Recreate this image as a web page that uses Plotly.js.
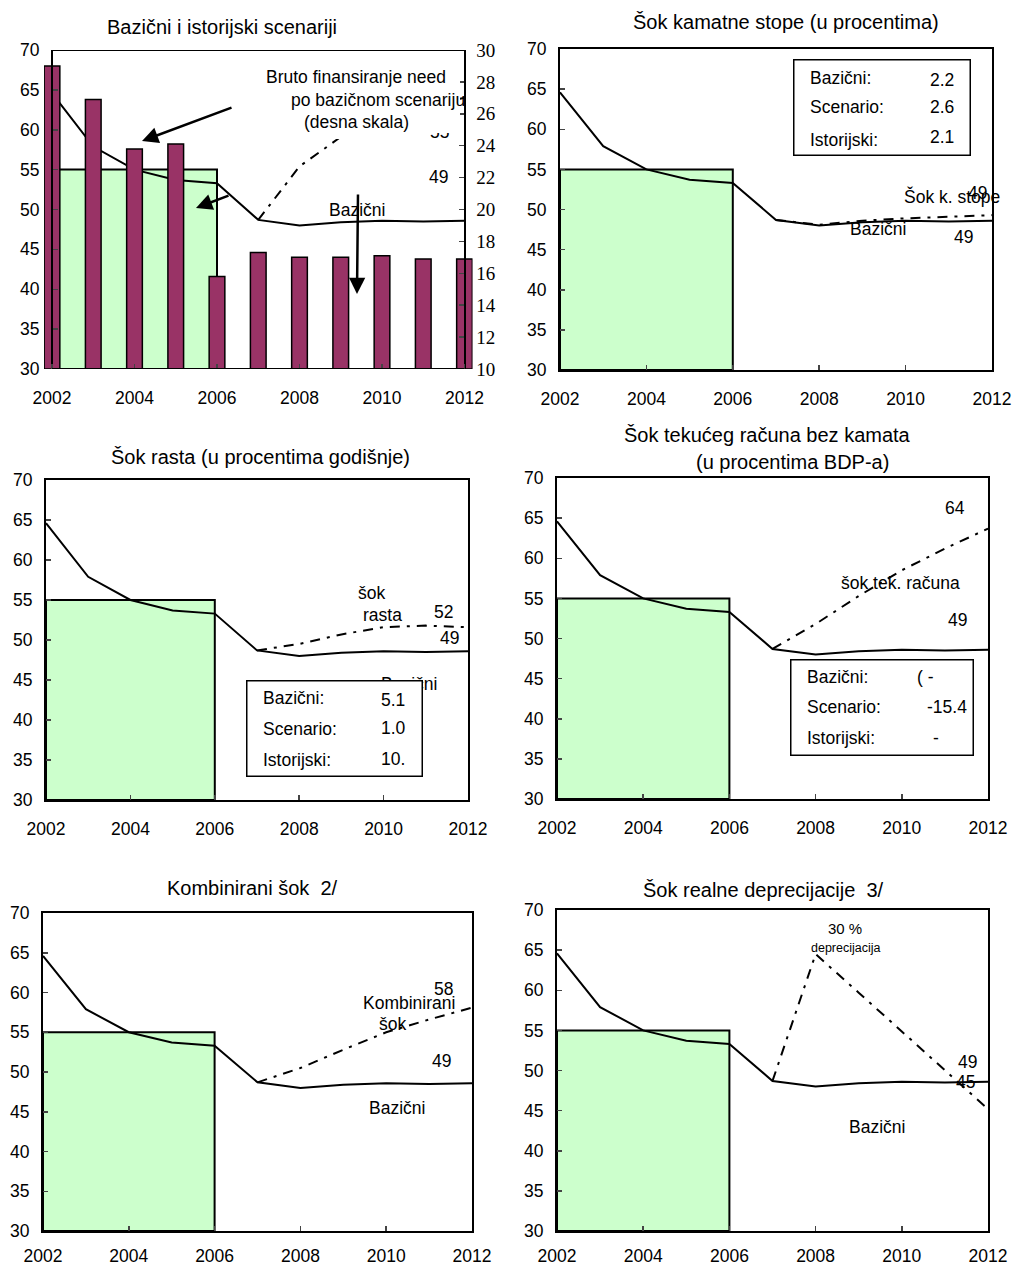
<!DOCTYPE html>
<html><head><meta charset="utf-8">
<script src="https://cdn.plot.ly/plotly-3.0.1.min.js"></script>
<style>html,body{margin:0;padding:0;background:#fff}#chart{width:1016px;height:1267px}</style>
</head><body><div id="chart"></div>
<script>
// ---------- data ----------
const years = [2002,2003,2004,2005,2006,2007,2008,2009,2010,2011,2012];
const baseline = [64.6,57.9,55.0,53.7,53.3,48.7,48.0,48.4,48.6,48.5,48.6];
const grossFinancingNeed = [29.0,26.9,23.8,24.1,15.8,17.3,17.0,17.0,17.1,16.9,16.9];
const shockYears = [2007,2008,2009,2010,2011,2012];
const historicalScenario = [48.7,55.4,59.1,61.5,63.0,64.0];
const interestShock = [48.7,48.1,48.6,48.9,49.1,49.3];
const growthShock = [48.7,49.5,50.7,51.6,51.8,51.6];
const currentAccountShock = [48.7,51.8,55.3,58.5,61.2,63.7];
const combinedShock = [48.7,50.5,52.8,55.0,56.6,58.1];
const depreciationShock = [48.7,64.5,59.7,54.9,50.0,45.2];
const histPeriod = [2002,2006];
const histAverage = 55;
const boxLabels = ['Bazični:','Scenario:','Istorijski:'];
const interestBoxValues = ['2.2','2.6','2.1'];
const growthBoxValues = ['5.1','1.0','10.'];
const caBoxValues = ['( -','-15.4','-'];
const xTicks = [2002,2004,2006,2008,2010,2012];
const titles = ['Bazični i istorijski scenariji','Šok kamatne stope (u procentima)','Šok rasta (u procentima godišnje)','Šok tekućeg računa bez kamata','Kombinirani šok  2/','Šok realne deprecijacije  3/'];

// ---------- helpers ----------
const W=1016,H=1267;
const PX=p=>p/W, PY=p=>1-p/H;
const SANS='Liberation Sans, Arial, sans-serif';
const SERIF='Liberation Serif, Times New Roman, serif';
const DASHDOT='10px,7px,3px,7px';
const TICK=17.5, LAB=17.5, TIT=20;

// panel pixel boxes [left,right,top,bottom]
const P = [
  [52,464.5,50,369],
  [560,992,49,370],
  [46,468,480,800],
  [557,988,478,799],
  [43,472,913,1231],
  [557,988,910,1231]
];
const xStandoff=[16,12,12,12,8,8];

const layout = {
  width:W,height:H,margin:{l:0,r:0,t:0,b:0},
  paper_bgcolor:'#fff',plot_bgcolor:'rgba(0,0,0,0)',
  showlegend:false,font:{family:SANS,size:16,color:'#000'},
  shapes:[],annotations:[]
};
const traces=[];

function xAx(dom,range,standoff){
  return {domain:dom,range:range,tickvals:xTicks,ticktext:xTicks.map(String),ticks:'inside',ticklen:5,tickwidth:1.5,
    showgrid:false,zeroline:false,showline:false,tickfont:{family:SANS,size:TICK,color:'#000'},ticklabelstandoff:standoff,fixedrange:true};
}
function yAx(dom){
  return {domain:dom,range:[30,70],dtick:5,tick0:30,ticks:'inside',ticklen:5,tickwidth:1.5,showgrid:false,zeroline:false,
    showline:true,linewidth:2,linecolor:'#000',tickfont:{family:SANS,size:TICK,color:'#000'},ticklabelstandoff:8,fixedrange:true};
}

// ----- panel 1 (bars extend beyond the frame) -----
{
  const [l,r,t,b]=P[0];
  const pxPerYear=(r-l)/10;
  const ext=8/pxPerYear;
  const xr=[2002-ext,2012+ext];
  layout.xaxis=Object.assign(xAx([PX(l-8),PX(r+8)],xr,xStandoff[0]),{anchor:'y'});
  layout.yaxis=Object.assign(yAx([PY(b),PY(t)]),{anchor:'free',position:PX(l)});
  layout.yaxis2={overlaying:'y',side:'right',anchor:'free',position:PX(r),range:[10,30],dtick:2,tick0:10,ticks:'inside',ticklen:5,tickwidth:1.5,
    showgrid:false,zeroline:false,showline:true,linewidth:2,linecolor:'#000',tickfont:{family:SERIF,size:19,color:'#000'},ticklabelstandoff:7,fixedrange:true};
  layout.shapes.push({type:'rect',xref:'x',yref:'y',x0:histPeriod[0],x1:histPeriod[1],y0:30,y1:histAverage,fillcolor:'#ccffcc',line:{color:'#000',width:2},layer:'below'});
  layout.shapes.push({type:'line',xref:'x',yref:'y',x0:2002,x1:2012,y0:70,y1:70,line:{color:'#000',width:2}});
  layout.shapes.push({type:'line',xref:'x',yref:'y',x0:2002,x1:2012,y0:30,y1:30,line:{color:'#000',width:2}});
  traces.push({type:'bar',x:years,y:grossFinancingNeed.map(v=>v-10),base:10,xaxis:'x',yaxis:'y2',width:0.38,
    marker:{color:'#993366',line:{color:'#000',width:1.5}},hoverinfo:'skip'});
  traces.push({type:'scatter',mode:'lines',x:years,y:baseline,xaxis:'x',yaxis:'y',line:{color:'#000',width:2},hoverinfo:'skip'});
  traces.push({type:'scatter',mode:'lines',x:shockYears,y:historicalScenario,xaxis:'x',yaxis:'y',line:{color:'#000',width:2,dash:DASHDOT},hoverinfo:'skip'});
}

// ----- panels 2-6 -----
const shockSeries=[interestShock,growthShock,currentAccountShock,combinedShock,depreciationShock];
for(let i=1;i<6;i++){
  const [l,r,t,b]=P[i];
  const xa='xaxis'+(i+1), ya='yaxis'+(i+2);
  const xs='x'+(i+1), ys='y'+(i+2);
  layout[xa]=Object.assign(xAx([PX(l),PX(r)],[2002,2012],xStandoff[i]),{anchor:ys,showline:true,linewidth:2,linecolor:'#000',mirror:true});
  layout[ya]=Object.assign(yAx([PY(b),PY(t)]),{anchor:xs,mirror:true});
  layout.shapes.push({type:'rect',xref:xs,yref:ys,x0:histPeriod[0],x1:histPeriod[1],y0:30,y1:histAverage,fillcolor:'#ccffcc',line:{color:'#000',width:2},layer:'below'});
  traces.push({type:'scatter',mode:'lines',x:years,y:baseline,xaxis:xs,yaxis:ys,line:{color:'#000',width:2},hoverinfo:'skip'});
  traces.push({type:'scatter',mode:'lines',x:shockYears,y:shockSeries[i-1],xaxis:xs,yaxis:ys,line:{color:'#000',width:2,dash:DASHDOT},hoverinfo:'skip'});
}

// ---------- annotations ----------
const A=layout.annotations;
function txt(text,x,y,opts,size){
  A.push(Object.assign({text:text,xref:'paper',yref:'paper',x:PX(x),y:PY(y),xanchor:'center',yanchor:'middle',showarrow:false,
    font:{family:SANS,size:size||LAB,color:'#000'}},opts||{}));
}
function arrow(hx,hy,tx,ty){
  A.push({text:'',xref:'paper',yref:'paper',x:PX(hx),y:PY(hy),ax:tx-hx,ay:ty-hy,showarrow:true,arrowhead:2,arrowsize:1.3,arrowwidth:2.5,arrowcolor:'#000'});
}
function box(l,r,t,b,opts){
  A.push(Object.assign({text:' ',xref:'paper',yref:'paper',x:PX((l+r)/2),y:PY((t+b)/2),xanchor:'center',yanchor:'middle',showarrow:false,
    width:r-l-4,height:b-t-4,bgcolor:'#fff',bordercolor:'#000',borderwidth:1.5,borderpad:0},opts||{}));
}
const noBorder={bordercolor:'rgba(0,0,0,0)',borderwidth:0};
// titles
txt(titles[0],222,27,null,TIT);
txt(titles[1],786,22,null,TIT);
txt(titles[2],260,457,null,TIT);
txt(titles[3],767,435,null,TIT);
txt('(u procentima BDP-a)',792,462,null,TIT);
txt(titles[4],252,888,null,TIT);
txt(titles[5],763,890,null,TIT);

// panel 1
txt('55',439,132);
box(256,462,62,135,noBorder);
box(292,424,110,141,noBorder);
txt('Bruto finansiranje need',356,77);
txt('po bazičnom scenariju',378,100);
txt('(desna skala)',356,122);
txt('49',438,177);
txt('Bazični',357,210);
arrow(142,141,233,107);
arrow(196,208,230,195);
arrow(357,294,358,193);

// panel 2
box(792,971,59,157);
boxLabels.forEach((s,k)=>txt(s,808,[78,107,140][k],{xanchor:'left'}));
interestBoxValues.forEach((s,k)=>txt(s,942,[80,107,137][k]));
txt('Šok k. stope',952,197);
txt('49',977,193);
txt('Bazični',878,229);
txt('49',963,237);

// panel 3
txt('šok',371,593);
txt('rasta',382,615);
txt('52',443,612);
txt('49',449,638);
txt('Bazični',409,684);
box(245,423,679,777);
boxLabels.forEach((s,k)=>txt(s,261,[698,729,760][k],{xanchor:'left'}));
growthBoxValues.forEach((s,k)=>txt(s,393,[700,728,759][k]));

// panel 4
txt('64',955,508);
txt('šok tek. računa',900,583);
txt('49',957,620);
box(789,974,658,756);
boxLabels.forEach((s,k)=>txt(s,805,[677,707,738][k],{xanchor:'left'}));
txt(caBoxValues[0],925,677);
txt(caBoxValues[1],947,707);
txt(caBoxValues[2],936,738);

// panel 5
txt('58',443,989);
txt('Kombinirani',409,1003);
txt('šok',392,1024);
txt('49',441,1061);
txt('Bazični',397,1108);

// panel 6
txt('30 %',845,928,null,15);
txt('deprecijacija',846,948,null,12.5);
txt('49',967,1062);
txt('45',965,1082);
txt('Bazični',877,1127);

Plotly.newPlot('chart',traces,layout,{staticPlot:true,displayModeBar:false});
</script></body></html>
